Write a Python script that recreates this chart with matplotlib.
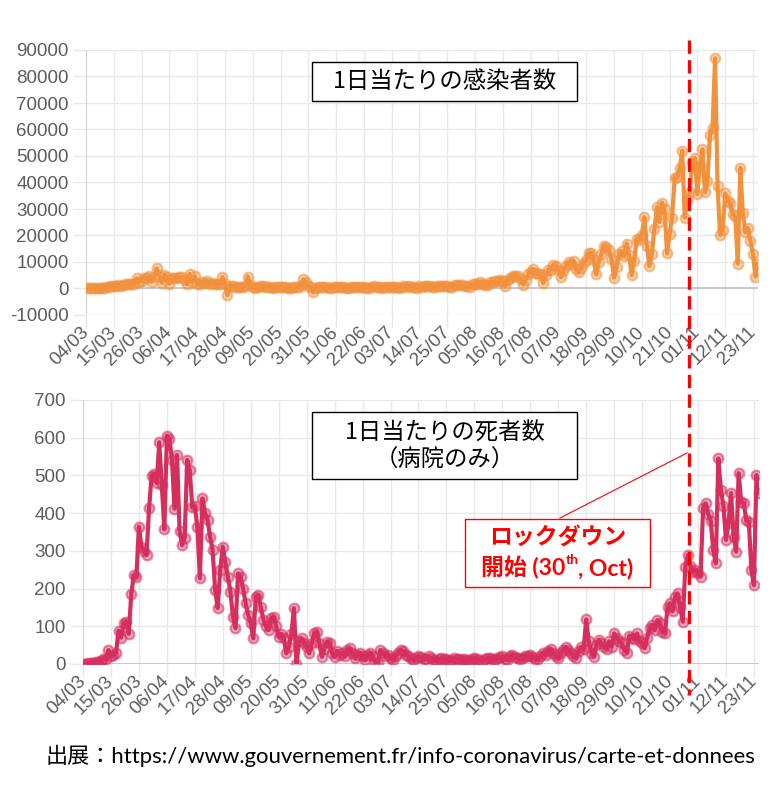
import numpy as np
import pandas as pd
import matplotlib
matplotlib.use("Agg")
import matplotlib.pyplot as plt
from matplotlib.lines import Line2D
from matplotlib.patches import Rectangle
from matplotlib.text import Annotation

plt.rcParams['font.family'] = ['Liberation Sans', 'Noto Sans CJK JP', 'DejaVu Sans']
plt.rcParams['axes.unicode_minus'] = False

# daily values, one list per month (first day 04/03)
start_date = "2020-03-04"

cases_mar = [60, 73, 138, 190, 336, 177, 286, 372, 497, 595, 785, 838, 924, 1210,
             1097, 1404, 1861, 1617, 1847, 1559, 3838, 2446, 2931, 3922, 3809, 4611,
             2599, 4376]
cases_apr = [7578, 4861, 2116, 5233, 4267, 1873, 3912, 3777, 3881, 4286, 4342, 3114,
             1613, 5497, 2633, 4560, 1645, 1600, 2569, 2051, 2667, 1827, 2183, 1653,
             1773, 1537, 4300, 1634, -2600, 1096]
cases_may = [1000, 600, 400, 700, 500, 1100, 4500, 1200, 600, 300, 500, 800, 900, 700,
             600, 500, 300, 400, 500, 600, 500, 400, 300, 300, 400, 500, 600, 900,
             3400, 2500, 1000]
cases_jun = [400, -1400, 300, 600, 700, 500, 400, 300, 300, 400, 500, 600, 500, 400,
             300, 200, 400, 450, 500, 400, 600, 500, 300, 300, 500, 1100, 600, 400,
             300, 500]
cases_jul = [600, 500, 600, 500, 400, 300, 700, 800, 700, 800, 600, 400, 300, 900,
             700, 800, 1000, 900, 500, 600, 1000, 1000, 1100, 1100, 1000, 700, 600,
             1300, 1400, 1300, 1300]
cases_aug = [1000, 900, 700, 1700, 1600, 1700, 2300, 1600, 1500, 1200, 2300, 2500,
             2700, 2800, 3300, 2900, 800, 3100, 3800, 4800, 4700, 4600, 3600, 1500,
             3300, 5400, 6100, 7400, 6000, 5500, 5400]
cases_sep = [2000, 4982, 7017, 7157, 8975, 8550, 7071, 4203, 6544, 8577, 9843, 9406,
             10561, 7183, 6158, 7852, 9784, 10593, 13215, 13498, 10569, 5298, 10008,
             13072, 16096, 15797, 14412, 11123, 4070, 8051]
cases_oct = [12845, 13970, 12148, 16972, 12565, 5084, 10489, 18746, 18129, 20339,
             26896, 16101, 8505, 12993, 22591, 30621, 25086, 32427, 29837, 13243,
             20468, 26676, 41622, 42032, 45422, 52010, 26771, 33417, 36437, 47637,
             49215]
cases_nov = [35641, 46290, 52518, 36330, 40558, 58046, 60486, 86852, 38619, 20155,
             22180, 35879, 33172, 32095, 28000, 27228, 9406, 45522, 28383, 21150,
             22882, 17881, 13157, 4452, 9155]

deaths_mar = [0, 1, 2, 2, 3, 5, 6, 9, 14, 12, 37, 20, 24, 30, 88, 70, 108, 112, 80,
              186, 236, 231, 364, 311, 299, 289, 413, 499]
deaths_apr = [505, 480, 588, 475, 357, 605, 597, 541, 412, 554, 353, 315, 335, 541,
              514, 417, 418, 364, 227, 439, 400, 382, 338, 302, 196, 148, 250, 311,
              270, 232]
deaths_may = [192, 125, 95, 240, 232, 200, 161, 130, 108, 68, 178, 183, 150, 117, 100,
              90, 121, 125, 100, 72, 80, 68, 28, 45, 80, 148, 0, 60, 68, 57, 45]
deaths_jun = [28, 55, 81, 86, 57, 19, 40, 59, 57, 30, 19, 35, 25, 30, 20, 38, 42, 30,
              15, 25, 30, 20, 10, 25, 30, 20, 5, 2, 37, 30]
deaths_jul = [20, 25, 15, 10, 20, 30, 37, 35, 25, 20, 15, 10, 15, 20, 18, 12, 14, 20,
              15, 10, 8, 12, 15, 14, 12, 8, 10, 15, 14, 12, 10]
deaths_aug = [12, 10, 8, 14, 15, 12, 10, 8, 12, 16, 15, 14, 10, 15, 18, 20, 12, 10, 22,
              25, 18, 15, 12, 15, 20, 22, 25, 18, 14, 12, 20]
deaths_sep = [30, 25, 35, 40, 30, 20, 15, 30, 37, 45, 38, 30, 20, 16, 35, 45, 40, 118,
              60, 30, 19, 50, 64, 55, 45, 40, 60, 46, 81, 70]
deaths_oct = [60, 55, 37, 30, 75, 70, 65, 81, 60, 55, 42, 70, 95, 103, 90, 116, 110, 85,
              81, 150, 161, 140, 178, 187, 150, 112, 258, 289, 260, 245, 250]
deaths_nov = [240, 232, 413, 426, 398, 380, 302, 267, 545, 461, 420, 329, 373, 453, 338,
              298, 506, 430, 426, 382, 377, 249, 209, 501, 453]

cases = (cases_mar + cases_apr + cases_may + cases_jun + cases_jul + cases_aug
         + cases_sep + cases_oct + cases_nov)
deaths = (deaths_mar + deaths_apr + deaths_may + deaths_jun + deaths_jul + deaths_aug
          + deaths_sep + deaths_oct + deaths_nov)

dates = pd.date_range(start_date, periods=len(cases), freq="D")
x = np.arange(len(dates))
tick_idx = x[::11]
tick_labels = dates[tick_idx].strftime("%d/%m")

orange = '#F2913E'
crimson = '#D62F5E'
red = '#FF0000'

W, H = 772, 787
fig = plt.figure(figsize=(W / 100, H / 100), dpi=100)


def px_box(left, top, right, bottom):
    return [left / W, 1 - bottom / H, (right - left) / W, (bottom - top) / H]


ax1 = fig.add_axes(px_box(86, 50, 758, 315))
ax2 = fig.add_axes(px_box(83, 400, 759, 664))


def style(ax, ymin, ymax, step):
    ax.set_xlim(0, len(dates) - 1)
    ax.set_ylim(ymin, ymax)
    ax.set_yticks(np.arange(ymin, ymax + 1, step))
    ax.set_xticks(tick_idx)
    ax.set_xticklabels(tick_labels, rotation=45, ha='right', va='center',
                       rotation_mode='anchor')
    ax.set_axisbelow(True)
    ax.grid(True, color='#e8e8e8', lw=1)
    for s in ax.spines.values():
        s.set_visible(False)
    ax.tick_params(length=9.5, width=1, color='#e8e8e8', labelcolor='#5c5c5c',
                   labelsize=13.5)
    ax.tick_params(axis='y', pad=3)
    ax.tick_params(axis='x', pad=1)
    ax.axhline(0, color='#c4c4c4', lw=1.3, zorder=1)
    ax.axvline(0, color='#d0d0d0', lw=1.3, zorder=1)


style(ax1, -10000, 90000, 10000)
style(ax2, 0, 700, 100)

ax1.plot(x, cases, color=orange, lw=3, marker='o', ms=7,
         mfc=(0.95, 0.57, 0.24, 0.4), mec=(0.95, 0.57, 0.24, 0.55), mew=1.6,
         zorder=3)
ax2.plot(x, deaths, color=crimson, lw=3, marker='o', ms=7,
         mfc=(0.84, 0.18, 0.37, 0.4), mec=(0.84, 0.18, 0.37, 0.55), mew=1.6,
         zorder=3)

# label boxes
fig.add_artist(Rectangle((312 / W, 1 - 101 / H), 265 / W, 39 / H,
                         transform=fig.transFigure, facecolor='white',
                         edgecolor='black', lw=1, zorder=5))
fig.text(444.5 / W, 1 - 82 / H, "1日当たりの感染者数", ha='center', va='center',
         fontsize=16.8, family=['Noto Sans CJK JP'], zorder=6)

fig.add_artist(Rectangle((312 / W, 1 - 479 / H), 265 / W, 67 / H,
                         transform=fig.transFigure, facecolor='white',
                         edgecolor='black', lw=1, zorder=5))
fig.text(444.5 / W, 1 - 432 / H, "1日当たりの死者数", ha='center', va='center',
         fontsize=16.8, family=['Noto Sans CJK JP'], zorder=6)
fig.text(444.5 / W, 1 - 460 / H, "（病院のみ）", ha='center', va='center',
         fontsize=16.8, family=['Noto Sans CJK JP'], zorder=6)

# lockdown marker
fig.add_artist(Line2D([688.5 / W, 688.5 / W], [1 - 40 / H, 1 - 695 / H],
                      transform=fig.transFigure, color=red, lw=2.4,
                      linestyle=(0, (4.0, 1.9)), zorder=7))
fig.add_artist(Line2D([560 / W, 687 / W], [1 - 518 / H, 1 - 453 / H],
                      transform=fig.transFigure, color=red, lw=0.8, zorder=7))
fig.add_artist(Rectangle((465 / W, 1 - 587 / H), 185 / W, 68 / H,
                         transform=fig.transFigure, facecolor='white',
                         edgecolor=red, lw=1, zorder=5))
fig.text(557.5 / W, 1 - 537 / H, "ロックダウン", ha='center', va='center',
         fontsize=16.5, fontweight='bold', color=red,
         family=['Noto Sans CJK JP'], zorder=6)
t_a = fig.text(481 / W, 1 - 568 / H, "開始 (30", ha='left', va='center',
               fontsize=16.5, fontweight='bold', color=red,
               family=['Lato', 'Noto Sans CJK JP'], zorder=6)
t_b = Annotation("th", xy=(1, 0.58), xycoords=t_a, ha='left', va='bottom',
                 fontsize=10, fontweight='bold', color=red, family=['Lato'],
                 zorder=6)
fig.add_artist(t_b)
t_c = Annotation(", Oct)", xy=(1, 0), xycoords=(t_b, t_a), ha='left', va='bottom',
                 fontsize=16.5, fontweight='bold', color=red, family=['Lato'],
                 zorder=6)
fig.add_artist(t_c)

fig.text(45 / W, 1 - 756 / H,
         "出展：https://www.gouvernement.fr/info-coronavirus/carte-et-donnees",
         ha='left', va='center', fontsize=15.95, family=['Lato', 'Noto Sans CJK JP'])

fig.savefig("out.png", dpi=100)
